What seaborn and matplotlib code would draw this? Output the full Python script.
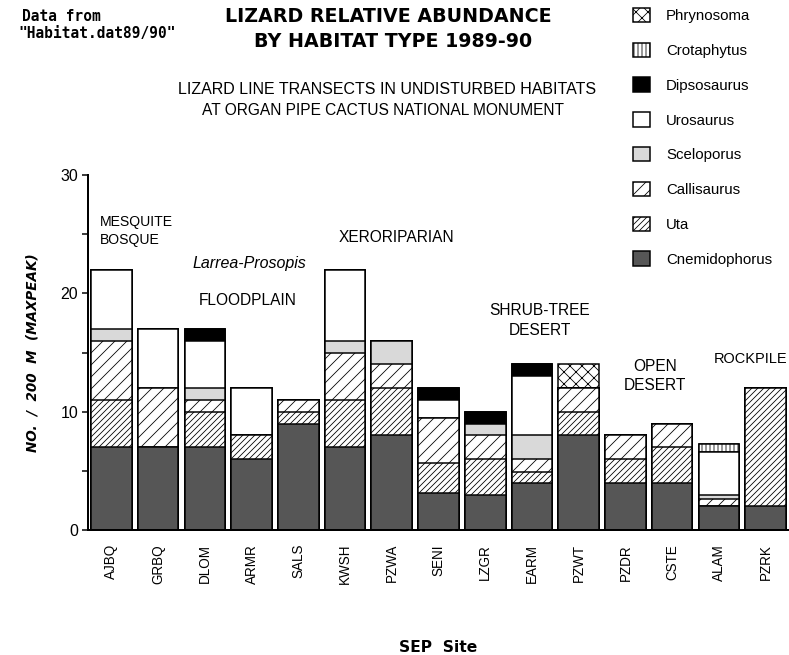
import matplotlib
matplotlib.use("Agg")
import numpy as np
import pandas as pd
import matplotlib.pyplot as plt
from matplotlib.patches import Patch
import seaborn as sns

sites = ["AJBQ", "GRBQ", "DLOM", "ARMR", "SALS", "KWSH", "PZWA", "SENI",
         "LZGR", "EARM", "PZWT", "PZDR", "CSTE", "ALAM", "PZRK"]

# counts per 200 m, bottom of the stack first
cnemidophorus = [7, 7, 7, 6, 9, 7, 8, 3.1, 3, 4, 8, 4, 4, 2, 2]
uta = [4, 0, 3, 2, 1, 4, 4, 2.6, 3, 0.9, 2, 2, 3, 0, 10]
callisaurus = [5, 5, 1, 0, 1, 4, 2, 3.8, 2, 1.1, 2, 2, 2, 0.6, 0]
sceloporus = [1, 0, 1, 0, 0, 1, 2, 0, 1, 2, 0, 0, 0, 0.4, 0]
urosaurus = [5, 5, 4, 4, 0, 6, 0, 1.5, 0, 5, 0, 0, 0, 3.6, 0]
dipsosaurus = [0, 0, 1, 0, 0, 0, 0, 1, 1, 1, 0, 0, 0, 0, 0]
crotaphytus = [0, 0, 0, 0, 0, 0, 0, 0, 0, 0, 0, 0, 0, 0.7, 0]
phrynosoma = [0, 0, 0, 0, 0, 0, 0, 0, 0, 0, 2, 0, 0, 0, 0]

species = ["Cnemidophorus", "Uta", "Callisaurus", "Sceloporus",
           "Urosaurus", "Dipsosaurus", "Crotaphytus", "Phrynosoma"]

# facecolor, hatch
styles = {
    "Cnemidophorus": ("#565656", None),
    "Uta": ("white", "////"),
    "Callisaurus": ("white", "//"),
    "Sceloporus": ("#d9d9d9", None),
    "Urosaurus": ("white", None),
    "Dipsosaurus": ("black", None),
    "Crotaphytus": ("white", "|||"),
    "Phrynosoma": ("white", "xx"),
}

habitats = [
    ("MESQUITE\nBOSQUE", -0.24, 25.3, "left", "normal", 14),
    ("Larrea-Prosopis", 2.95, 22.5, "center", "italic", 16),
    ("FLOODPLAIN", 2.91, 19.4, "center", "normal", 15.5),
    ("XERORIPARIAN", 6.10, 24.7, "center", "normal", 15.5),
    ("SHRUB-TREE\nDESERT", 9.17, 17.7, "center", "normal", 15.5),
    ("OPEN\nDESERT", 11.64, 13.0, "center", "normal", 15.5),
    ("ROCKPILE", 12.9, 14.45, "left", "normal", 14.5),
]

df = pd.DataFrame({
    "Cnemidophorus": cnemidophorus, "Uta": uta, "Callisaurus": callisaurus,
    "Sceloporus": sceloporus, "Urosaurus": urosaurus, "Dipsosaurus": dipsosaurus,
    "Crotaphytus": crotaphytus, "Phrynosoma": phrynosoma,
}, index=sites)
cum = df[species].cumsum(axis=1)

sns.set_style("white")
plt.rcParams["font.family"] = ["Liberation Sans", "DejaVu Sans"]
plt.rcParams["hatch.linewidth"] = 0.8
plt.rcParams["text.color"] = "black"
plt.rcParams["xtick.color"] = "black"
plt.rcParams["ytick.color"] = "black"
plt.rcParams["axes.labelcolor"] = "black"

dpi = 72
fig = plt.figure(figsize=(789 / dpi, 655 / dpi), dpi=dpi)
ax = fig.add_axes([88 / 789, 125 / 655, 701 / 789, 355 / 655])

# draw cumulative stacks from the top species down, each covers the one above
for name in reversed(species):
    face, hatch = styles[name]
    sns.barplot(x=sites, y=cum[name].values, order=sites, color=face,
                saturation=1, hatch=hatch, edgecolor="black", linewidth=1.5,
                width=0.87, errorbar=None, ax=ax)

ax.set_xlim(-0.5, 14.5)
ax.set_ylim(0, 30)
ax.set_yticks([0, 10, 20, 30])
ax.set_yticks([5, 15, 25], minor=True)
ax.set_xticks(range(len(sites)))
ax.set_xticklabels(sites, rotation=90, fontsize=13.5)
ax.set_xticks(np.arange(-0.5, len(sites)), minor=True)
ax.tick_params(axis="x", which="major", length=0, pad=14)
ax.tick_params(axis="x", which="minor", length=5, width=1.5, direction="out")
ax.tick_params(axis="y", which="both", length=6, width=1.5, direction="out",
               labelsize=16, pad=4, left=True)
for side in ["top", "right"]:
    ax.spines[side].set_visible(False)
for side in ["left", "bottom"]:
    ax.spines[side].set_linewidth(2)
    ax.spines[side].set_color("black")

ax.set_ylabel("NO.  /  200  M  (MAXPEAK)", fontsize=13.5, fontweight="bold",
              fontstyle="italic", family="DejaVu Sans", labelpad=21)
ax.set_xlabel("SEP  Site", fontsize=15.5, fontweight="bold", family="DejaVu Sans",
              va="baseline")
ax.xaxis.set_label_coords(0.5, (530 - 652) / 355)

for text, x, y, ha, style, size in habitats:
    ax.text(x, y, text, ha=ha, va="center", fontstyle=style, fontsize=size,
            linespacing=1.35, clip_on=False)

# titles
fig.text(388 / 789, 1 - 22 / 655, "LIZARD RELATIVE ABUNDANCE", ha="center",
         va="baseline", fontsize=19, fontweight="bold", family="DejaVu Sans")
fig.text(393 / 789, 1 - 47 / 655, "BY HABITAT TYPE 1989-90", ha="center",
         va="baseline", fontsize=19, fontweight="bold", family="DejaVu Sans")
fig.text(22 / 789, 1 - 21 / 655, "Data from", ha="left", va="baseline",
         fontsize=14.5, fontweight="bold", family="DejaVu Sans Mono")
fig.text(18 / 789, 1 - 38 / 655, "\"Habitat.dat89/90\"", ha="left",
         va="baseline", fontsize=14.5, fontweight="bold", family="DejaVu Sans Mono")
fig.text(387 / 789, 1 - 94 / 655, "LIZARD LINE TRANSECTS IN UNDISTURBED HABITATS",
         ha="center", va="baseline", fontsize=16)
fig.text(383 / 789, 1 - 115 / 655, "AT ORGAN PIPE CACTUS NATIONAL MONUMENT",
         ha="center", va="baseline", fontsize=15.5)

handles = [Patch(facecolor=styles[n][0], hatch=styles[n][1], edgecolor="black",
                 linewidth=1.5, label=n) for n in reversed(species)]
fig.legend(handles=handles, loc="upper left", bbox_to_anchor=(633 / 789, 0.988),
           frameon=False, fontsize=15, handlelength=1.1, handleheight=1.1,
           labelspacing=1.3, handletextpad=1.1, borderpad=0, borderaxespad=0)

fig.savefig("out.png", dpi=dpi)
